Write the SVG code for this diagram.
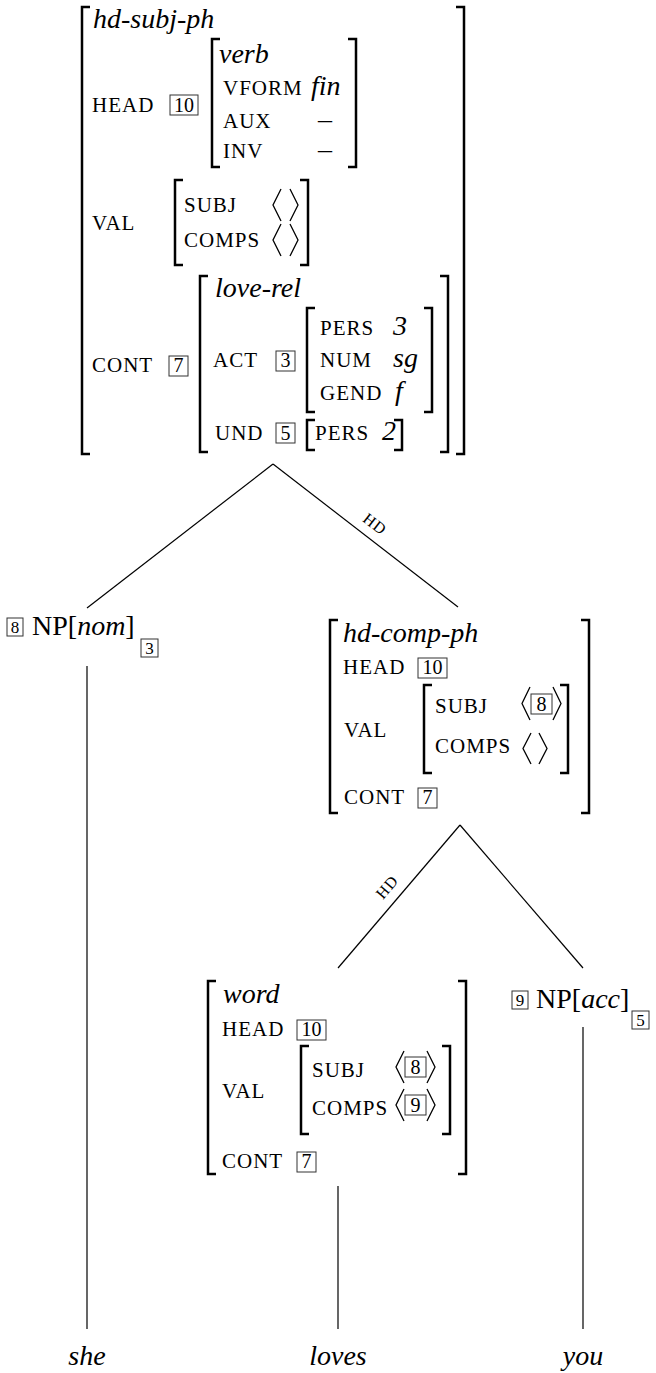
<svg xmlns="http://www.w3.org/2000/svg" width="656" height="1373" viewBox="0 0 656 1373">
<style>
text { font-family: "Liberation Serif", "DejaVu Serif", serif; fill: #000; }
.it { font-style: italic; font-size: 28px; }
.rm { font-size: 28px; }
.sc { font-size: 21px; letter-spacing: 1px; }
.tg { font-size: 20px; text-anchor: middle; }
.tgs { font-size: 17px; text-anchor: middle; }
.box { fill: none; stroke: #333; stroke-width: 1; }
.br { fill: none; stroke: #000; stroke-width: 2.5; }
.ang { fill: none; stroke: #000; stroke-width: 1.3; }
.edge { stroke: #000; stroke-width: 1.2; fill: none; }
.hd { font-size: 16px; letter-spacing: 1px; text-anchor: middle; dominant-baseline: central; }
.leaf { font-style: italic; font-size: 28px; text-anchor: middle; }
</style>
<rect width="656" height="1373" fill="#fff"/>

<g id="connectors">
  <path class="edge" d="M273,464 L87,608"/>
  <path class="edge" d="M273,464 L458,607"/>
  <path class="edge" d="M87,666 V1329"/>
  <path class="edge" d="M460,825 L338,968"/>
  <path class="edge" d="M460,825 L583,968"/>
  <path class="edge" d="M583,1027 V1329"/>
  <path class="edge" d="M338,1186 V1329"/>
  <text class="hd" transform="translate(375,524) rotate(37.7)">HD</text>
  <text class="hd" transform="translate(387,887) rotate(-49.5)">HD</text>
</g>

<g id="node-hd-subj-ph">
  <path class="br" d="M90,7 H82 V454 H90"/>
  <path class="br" d="M456,7 H464 V454 H456"/>
  <text class="it" x="93" y="28">hd-subj-ph</text>
  <text class="sc" x="92" y="112">HEAD</text>
  <rect class="box" x="170" y="95" width="28" height="20"/>
  <text class="tg" x="184" y="111.5">10</text>
  <path class="br" d="M220,39 H212 V167 H220"/>
  <path class="br" d="M348,39 H356 V167 H348"/>
  <text class="it" x="219" y="63">verb</text>
  <text class="sc" x="223" y="95">VFORM</text>
  <text class="it" x="311" y="95">fin</text>
  <text class="sc" x="223" y="128">AUX</text>
  <text class="rm" x="318" y="128">–</text>
  <text class="sc" x="223" y="158">INV</text>
  <text class="rm" x="318" y="158">–</text>

  <text class="sc" x="92" y="230">VAL</text>
  <path class="br" d="M183,180 H175 V265 H183"/>
  <path class="br" d="M300,180 H308 V265 H300"/>
  <text class="sc" x="184" y="212">SUBJ</text>
  <polyline class="ang" points="281,189 273,205 281,221"/>
  <polyline class="ang" points="290,189 298,205 290,221"/>
  <text class="sc" x="184" y="247">COMPS</text>
  <polyline class="ang" points="281,224 273,240 281,256"/>
  <polyline class="ang" points="290,224 298,240 290,256"/>

  <text class="sc" x="92" y="372">CONT</text>
  <rect class="box" x="169" y="356" width="19" height="20"/>
  <text class="tg" x="178.5" y="372">7</text>
  <path class="br" d="M208,276 H200 V452 H208"/>
  <path class="br" d="M440,276 H448 V452 H440"/>
  <text class="it" x="215" y="297">love-rel</text>
  <text class="sc" x="213" y="367">ACT</text>
  <rect class="box" x="276" y="351" width="19" height="20"/>
  <text class="tg" x="285.5" y="367">3</text>
  <path class="br" d="M315,308 H307 V412 H315"/>
  <path class="br" d="M424,308 H432 V412 H424"/>
  <text class="sc" x="320" y="335">PERS</text>
  <text class="it" x="393" y="335">3</text>
  <text class="sc" x="320" y="367">NUM</text>
  <text class="it" x="393" y="367">sg</text>
  <text class="sc" x="320" y="400">GEND</text>
  <text class="it" x="395" y="400">f</text>
  <text class="sc" x="215" y="440">UND</text>
  <rect class="box" x="276" y="423" width="19" height="20"/>
  <text class="tg" x="285.5" y="440">5</text>
  <path class="br" d="M315,420 H307 V450 H315"/>
  <path class="br" d="M394,420 H402 V450 H394"/>
  <text class="sc" x="315" y="440">PERS</text>
  <text class="it" x="382" y="440">2</text>
</g>

<g id="node-np-nom">
  <rect class="box" x="7" y="618" width="16" height="18"/>
  <text class="tgs" x="15" y="633">8</text>
  <text class="rm" x="32" y="635">NP[<tspan font-style="italic">nom</tspan>]</text>
  <rect class="box" x="141" y="639" width="17" height="18"/>
  <text class="tgs" x="149.5" y="654">3</text>
</g>

<g id="node-hd-comp-ph" transform="translate(330,620)">
  <path class="br" d="M8,0 H0 V193 H8"/>
  <path class="br" d="M251,0 H259 V193 H251"/>
  <text class="it" x="13" y="22">hd-comp-ph</text>
  <text class="sc" x="13" y="54">HEAD</text>
  <rect class="box" x="88" y="38" width="29" height="20"/>
  <text class="tg" x="102.5" y="54">10</text>
  <text class="sc" x="14" y="117">VAL</text>
  <path class="br" d="M102,65 H94 V153 H102"/>
  <path class="br" d="M230,65 H238 V153 H230"/>
  <text class="sc" x="105" y="93">SUBJ</text>
  <polyline class="ang" points="200,67 192,83.5 200,100"/>
  <rect class="box" x="201" y="74" width="21" height="20"/>
  <text class="tg" x="211.5" y="91">8</text>
  <polyline class="ang" points="223,67 231,83.5 223,100"/>
  <text class="sc" x="105" y="133">COMPS</text>
  <polyline class="ang" points="201,113 193,128.5 201,144"/>
  <polyline class="ang" points="209,113 217,128.5 209,144"/>
  <text class="sc" x="14" y="184">CONT</text>
  <rect class="box" x="88" y="168" width="19" height="20"/>
  <text class="tg" x="97.5" y="184">7</text>
</g>

<g id="node-word" transform="translate(208,981)">
  <path class="br" d="M8,0 H0 V193 H8"/>
  <path class="br" d="M250,0 H258 V193 H250"/>
  <text class="it" x="15" y="22">word</text>
  <text class="sc" x="14" y="55">HEAD</text>
  <rect class="box" x="89" y="39" width="29" height="20"/>
  <text class="tg" x="103.5" y="55">10</text>
  <text class="sc" x="14" y="117">VAL</text>
  <path class="br" d="M101,65 H93 V153 H101"/>
  <path class="br" d="M234,65 H242 V153 H234"/>
  <text class="sc" x="104" y="96">SUBJ</text>
  <polyline class="ang" points="196,70 188,86 196,102"/>
  <rect class="box" x="197" y="76" width="21" height="20"/>
  <text class="tg" x="207.5" y="93">8</text>
  <polyline class="ang" points="219,70 227,86 219,102"/>
  <text class="sc" x="104" y="134">COMPS</text>
  <polyline class="ang" points="196,108 188,124 196,140"/>
  <rect class="box" x="197" y="114" width="21" height="20"/>
  <text class="tg" x="207.5" y="131">9</text>
  <polyline class="ang" points="219,108 227,124 219,140"/>
  <text class="sc" x="14" y="187">CONT</text>
  <rect class="box" x="89" y="171" width="19" height="20"/>
  <text class="tg" x="98.5" y="187">7</text>
</g>

<g id="node-np-acc">
  <rect class="box" x="512" y="991" width="16" height="18"/>
  <text class="tgs" x="520" y="1006">9</text>
  <text class="rm" x="536" y="1008">NP[<tspan font-style="italic">acc</tspan>]</text>
  <rect class="box" x="632" y="1011" width="17" height="18"/>
  <text class="tgs" x="640.5" y="1026">5</text>
</g>

<g id="leaf-she"><text class="leaf" x="87" y="1365">she</text></g>
<g id="leaf-loves"><text class="leaf" x="338" y="1365">loves</text></g>
<g id="leaf-you"><text class="leaf" x="583" y="1365">you</text></g>
</svg>
